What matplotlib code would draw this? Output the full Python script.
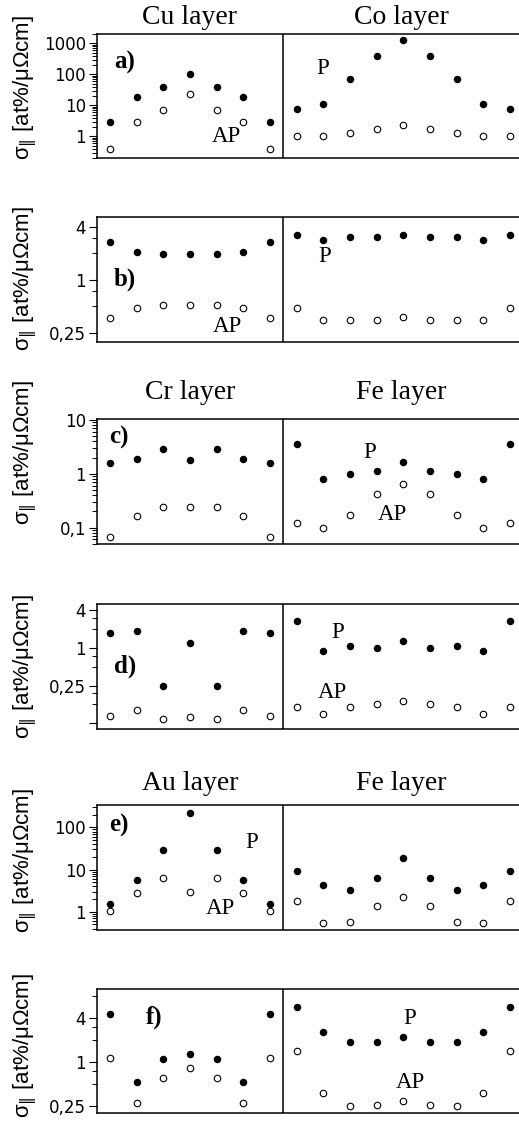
import matplotlib
matplotlib.use("Agg")
import matplotlib.pyplot as plt
from matplotlib.ticker import FixedLocator, FixedFormatter, NullFormatter, LogLocator

# ---------------- data ----------------
left_pos = list(range(0, 7))
right_pos = list(range(7, 16))

titles_top = ["Cu layer", "Co layer"]
titles_mid = ["Cr layer", "Fe layer"]
titles_bot = ["Au layer", "Fe layer"]

# panel a (Cu / Co)
a_left_P = [3.0, 19, 40, 105, 40, 19, 3.0]
a_left_AP = [0.4, 2.8, 7.1, 22.6, 7.1, 2.8, 0.4]
a_right_P = [7.4, 10.8, 69, 390, 1300, 390, 69, 10.8, 7.4]
a_right_AP = [1.0, 1.0, 1.3, 1.7, 2.4, 1.7, 1.3, 1.0, 1.0]

# panel b (Cu / Co)
b_left_P = [2.7, 2.04, 1.95, 1.95, 1.95, 2.04, 2.7]
b_left_AP = [0.37, 0.47, 0.52, 0.52, 0.52, 0.47, 0.37]
b_right_P = [3.2, 2.84, 3.08, 3.08, 3.2, 3.08, 3.08, 2.84, 3.2]
b_right_AP = [0.48, 0.35, 0.35, 0.35, 0.375, 0.35, 0.35, 0.35, 0.48]

# panel c (Cr / Fe)
c_left_P = [1.58, 1.9, 2.9, 1.82, 2.9, 1.9, 1.58]
c_left_AP = [0.068, 0.162, 0.239, 0.24, 0.239, 0.162, 0.068]
c_right_P = [3.57, 0.79, 1.0, 1.12, 1.65, 1.12, 1.0, 0.79, 3.57]
c_right_AP = [0.122, 0.1, 0.174, 0.42, 0.64, 0.42, 0.174, 0.1, 0.122]

# panel d (Cr / Fe)
d_left_P = [1.73, 1.84, 0.248, 1.22, 0.25, 1.84, 1.73]
d_left_AP = [0.081, 0.10, 0.074, 0.079, 0.074, 0.10, 0.081]
d_right_P = [2.67, 0.905, 1.077, 1.0, 1.28, 1.0, 1.077, 0.905, 2.67]
d_right_AP = [0.115, 0.088, 0.115, 0.127, 0.142, 0.127, 0.115, 0.088, 0.115]

# panel e (Au / Fe)
e_left_P = [1.55, 5.6, 29, 219, 29, 5.6, 1.55]
e_left_AP = [1.05, 2.83, 6.3, 3.0, 6.3, 2.83, 1.05]
e_right_P = [9.1, 4.3, 3.2, 6.3, 19.3, 6.3, 3.2, 4.3, 9.1]
e_right_AP = [1.8, 0.55, 0.58, 1.39, 2.19, 1.39, 0.58, 0.55, 1.8]

# panel f (Au / Fe)
f_left_P = [4.57, 0.54, 1.12, 1.29, 1.12, 0.54, 4.57]
f_left_AP = [1.13, 0.28, 0.61, 0.835, 0.61, 0.28, 1.13]
f_right_P = [5.65, 2.63, 1.89, 1.9, 2.24, 1.9, 1.89, 2.63, 5.65]
f_right_AP = [1.43, 0.38, 0.255, 0.26, 0.296, 0.26, 0.255, 0.38, 1.43]

# tick values / labels
dec_ticks_a = [1, 10, 100, 1000]
dec_labels_a = ["1", "10", "100", "1000"]
dec_ticks_c = [0.1, 1, 10]
dec_labels_c = ["0,1", "1", "10"]
dec_ticks_e = [1, 10, 100]
dec_labels_e = ["1", "10", "100"]
q_ticks_b = [0.25, 1, 4]
q_labels_b = ["0,25", "1", "4"]
q_minor_b = [0.5, 0.75, 2, 3]
q_ticks_d = [0.0625, 0.25, 1, 4]
q_labels_d = ["", "0,25", "1", "4"]
q_minor_d = [0.125, 0.1875, 0.5, 0.75, 2, 3]
q_ticks_f = [0.25, 1, 4]
q_labels_f = ["0,25", "1", "4"]
q_minor_f = [0.5, 0.75, 2, 3, 8]

panel_letters = ["a)", "b)", "c)", "d)", "e)", "f)"]

# ---------------- layout ----------------
W, H = 519, 1131
fig = plt.figure(figsize=(W / 100, H / 100), dpi=100)

def fy(px):
    return 1 - px / H

def fx(px):
    return px / W

panel_px = [(34, 158), (217.3, 342), (419.3, 543.7), (604.3, 729.3), (805, 930), (989.3, 1113.3)]
ylims = [(0.2, 2000), (0.195, 5.1), (0.05, 10.3), (0.05, 5.0), (0.37, 340), (0.2, 10)]

data = [
    (a_left_P, a_left_AP, a_right_P, a_right_AP),
    (b_left_P, b_left_AP, b_right_P, b_right_AP),
    (c_left_P, c_left_AP, c_right_P, c_right_AP),
    (d_left_P, d_left_AP, d_right_P, d_right_AP),
    (e_left_P, e_left_AP, e_right_P, e_right_AP),
    (f_left_P, f_left_AP, f_right_P, f_right_AP),
]

tick_specs = [
    ("dec", dec_ticks_a, dec_labels_a, None),
    ("q", q_ticks_b, q_labels_b, q_minor_b),
    ("dec", dec_ticks_c, dec_labels_c, None),
    ("q", q_ticks_d, q_labels_d, q_minor_d),
    ("dec", dec_ticks_e, dec_labels_e, None),
    ("q", q_ticks_f, q_labels_f, q_minor_f),
]

ylabel_centers = [88, 279, 453, 667, 861, 1046]
letter_pos = [(114, 62), (114, 279), (109, 437), (114, 666), (109, 825), (146, 1017)]
P_pos = [(323, 68), (325, 257), (370, 453), (338, 632), (252, 843), (410, 1018)]
AP_pos = [(226, 137), (227, 327), (392, 514), (332, 693), (220, 908), (410, 1082)]

serif = ["Liberation Serif", "DejaVu Serif"]
sans = ["Liberation Sans", "DejaVu Sans"]
lw = 1.1

left = 97
for i, ((top, bot), yl, d, ts) in enumerate(zip(panel_px, ylims, data, tick_specs)):
    ax = fig.add_axes([fx(left), fy(bot), 1 - fx(left), (bot - top) / H])
    lp, lap, rp, rap = d
    ax.plot(left_pos, lp, 'o', color='black', ms=5.4, mew=0, linestyle='none')
    ax.plot(right_pos, rp, 'o', color='black', ms=5.4, mew=0, linestyle='none')
    ax.plot(left_pos, lap, 'o', mfc='white', mec='black', ms=4.7, mew=0.8, linestyle='none')
    ax.plot(right_pos, rap, 'o', mfc='white', mec='black', ms=4.7, mew=0.8, linestyle='none')
    ax.set_yscale('log')
    ax.set_ylim(*yl)
    ax.set_xlim(-0.49, 15.34)
    ax.axvline(6.5, color='black', lw=lw)
    kind, maj, labs, mino = ts
    ax.yaxis.set_major_locator(FixedLocator(maj))
    ax.yaxis.set_major_formatter(FixedFormatter(labs))
    if kind == "dec":
        ax.yaxis.set_minor_locator(LogLocator(base=10, subs=[2, 3, 4, 5, 6, 7, 8, 9], numticks=20))
    else:
        ax.yaxis.set_minor_locator(FixedLocator(mino))
    ax.yaxis.set_minor_formatter(NullFormatter())
    ax.set_xticks([])
    ax.tick_params(axis='y', which='major', direction='out', length=6, width=0.8, pad=2,
                   labelsize=12, labelfontfamily='DejaVu Sans')
    ax.tick_params(axis='y', which='minor', direction='out', length=3.5, width=0.7)
    for s in ['top', 'left', 'bottom']:
        ax.spines[s].set_linewidth(lw)
    ax.spines['right'].set_visible(False)

    fig.text(fx(25), fy(ylabel_centers[i]), "σ$_{‖}$ [at%/μΩcm]", rotation=90,
             ha='center', va='center', fontsize=16, family=sans)
    lx, ly = letter_pos[i]
    fig.text(fx(lx), fy(ly), panel_letters[i], ha='left', va='center', fontsize=18,
             fontweight='bold', family=serif)
    px_, py_ = P_pos[i]
    fig.text(fx(px_), fy(py_), "P", ha='center', va='center', fontsize=16.5, family=serif)
    ax_, ay_ = AP_pos[i]
    fig.text(fx(ax_), fy(ay_), "AP", ha='center', va='center', fontsize=16.5, family=serif)

# titles
title_rows = [(titles_top, 17), (titles_mid, 392), (titles_bot, 784)]
for (tl, yc) in title_rows:
    fig.text(fx(190), fy(yc), tl[0], ha='center', va='center', fontsize=20, family=serif)
    fig.text(fx(401), fy(yc), tl[1], ha='center', va='center', fontsize=20, family=serif)

fig.savefig("out.png", dpi=100)
